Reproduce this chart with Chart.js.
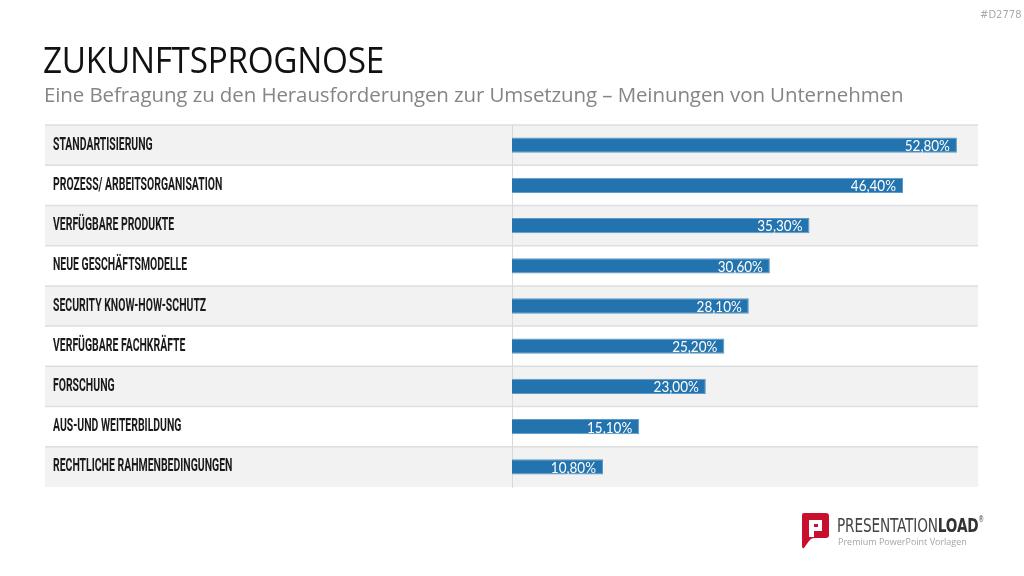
<!DOCTYPE html>
<html>
<head>
<meta charset="utf-8">
<script src="https://cdn.jsdelivr.net/npm/chart.js@4.4.1/dist/chart.umd.min.js"></script>
<style>
  html, body { margin:0; padding:0; background:#fff; }
  body { width:1024px; height:576px; position:relative; overflow:hidden; font-family:"Open Sans", sans-serif; }
  #wrap { position:absolute; left:0; top:0; width:1024px; height:576px; }
  .code { position:absolute; left:980px; top:9px; font:10px "DejaVu Sans", sans-serif; color:#a8a8a8; }
  .title { position:absolute; left:43px; top:35px; font:400 36px "Open Sans", sans-serif; color:#111; letter-spacing:-0.3px; white-space:nowrap; transform-origin:0 0; transform:scaleX(0.925); }
  .sub { position:absolute; left:44px; top:80px; font:400 20.5px "Open Sans", sans-serif; color:#858585; letter-spacing:-0.1px; white-space:nowrap; }
  .logo { position:absolute; left:802px; top:513px; }
  .lt { position:absolute; left:837px; top:513px; font:400 20px "DejaVu Sans Condensed", "Liberation Sans", sans-serif; color:#444; letter-spacing:-0.2px; white-space:nowrap; transform-origin:0 0; transform:scaleX(0.76); }
  .lt b { font-weight:700; color:#333; }
  .lt sup { font-size:8px; vertical-align:10px; }
  .ls { position:absolute; left:838px; top:535px; font:400 9px "Open Sans", sans-serif; color:#a5a5a5; white-space:nowrap; }
</style>
</head>
<body>
<div id="wrap"><canvas id="c" width="1024" height="576"></canvas></div>
<div class="code">#D2778</div>
<div class="title">ZUKUNFTSPROGNOSE</div>
<div class="sub">Eine Befragung zu den Herausforderungen zur Umsetzung – Meinungen von Unternehmen</div>
<svg class="logo" width="28" height="36" viewBox="0 0 28 36">
  <path d="M2 0 H24 Q27 0 27 3 V22 Q27 25 24 25 H12 Q9 25 7 28 L2 35 Q0 36 0 33 V2 Q0 0 2 0 Z" fill="#c8102e"/>
  <path d="M7 7 H20 V18 H12 V24 H7 Z" fill="#fff"/>
  <path d="M12 11 H16 V14 H12 Z" fill="#c8102e"/>
</svg>
<div class="lt">PRESENTATION<b>LOAD</b><sup>®</sup></div>
<div class="ls">Premium PowerPoint Vorlagen</div>
<script>
const categories = [
  "STANDARTISIERUNG",
  "PROZESS/ ARBEITSORGANISATION",
  "VERFÜGBARE PRODUKTE",
  "NEUE GESCHÄFTSMODELLE",
  "SECURITY KNOW-HOW-SCHUTZ",
  "VERFÜGBARE FACHKRÄFTE",
  "FORSCHUNG",
  "AUS-UND WEITERBILDUNG",
  "RECHTLICHE RAHMENBEDINGUNGEN"
];
const values = [52.8, 46.4, 35.3, 30.6, 28.1, 25.2, 23.0, 15.1, 10.8];
const valueLabels = ["52,80%", "46,40%", "35,30%", "30,60%", "28,10%", "25,20%", "23,00%", "15,10%", "10,80%"];

const LABEL_FONT = '700 18px Roboto, "DejaVu Sans", sans-serif';
const LABEL_SQUEEZE = 0.58;

const rowBands = {
  id: 'rowBands',
  beforeDraw(chart) {
    const {ctx, chartArea, scales} = chart;
    const y = scales.y;
    const left = y.left - 8;
    const right = chartArea.right;
    const n = categories.length;
    const step = (chartArea.bottom - chartArea.top) / n;
    ctx.save();
    for (let i = 0; i < n; i++) {
      const c = y.getPixelForValue(i);
      ctx.fillStyle = (i % 2 === 0) ? '#f2f2f2' : '#ffffff';
      ctx.fillRect(left, c - step / 2, right - left, step);
    }
    ctx.strokeStyle = '#dedede';
    ctx.lineWidth = 1.5;
    for (let i = 0; i < n; i++) {
      const top = y.getPixelForValue(i) - step / 2;
      ctx.beginPath();
      ctx.moveTo(left, top);
      ctx.lineTo(right, top);
      ctx.stroke();
    }
    ctx.restore();
  },
  afterDraw(chart) {
    const {ctx, scales} = chart;
    const y = scales.y;
    ctx.save();
    ctx.fillStyle = '#1a1a1a';
    ctx.font = LABEL_FONT;
    ctx.textAlign = 'left';
    ctx.textBaseline = 'middle';
    categories.forEach((lab, i) => {
      const cy = y.getPixelForValue(i);
      ctx.save();
      ctx.translate(y.left, cy);
      ctx.scale(LABEL_SQUEEZE, 1);
      ctx.fillText(lab, 0, 0);
      ctx.restore();
    });
    ctx.restore();
  }
};

const valueLabelPlugin = {
  id: 'valueLabels',
  afterDatasetsDraw(chart) {
    const {ctx} = chart;
    const meta = chart.getDatasetMeta(0);
    ctx.save();
    ctx.fillStyle = '#ffffff';
    ctx.font = '400 15px Lato, "Open Sans", sans-serif';
    ctx.textAlign = 'right';
    ctx.textBaseline = 'middle';
    meta.data.forEach((bar, i) => {
      ctx.save();
      ctx.translate(bar.x - 7, bar.y + 1);
      ctx.scale(0.9, 1);
      ctx.fillText(valueLabels[i], 0, 0);
      ctx.restore();
    });
    ctx.restore();
  }
};

new Chart(document.getElementById('c'), {
  type: 'bar',
  data: {
    labels: categories,
    datasets: [{
      data: values,
      backgroundColor: '#2273ae',
      borderColor: '#5d9ac6',
      borderWidth: 1,
      borderSkipped: 'start',
      barPercentage: 0.38,
      categoryPercentage: 1.0
    }]
  },
  options: {
    indexAxis: 'y',
    responsive: false,
    animation: false,
    events: [],
    layout: { padding: { top: 125, bottom: 89, left: 53, right: 46 } },
    plugins: { legend: { display: false }, tooltip: { enabled: false } },
    scales: {
      x: { display: false, min: 0, max: 55.3 },
      y: {
        afterFit(scale) { scale.width = 459; },
        grid: { display: false, drawTicks: false },
        border: { display: true, color: '#d9d9d9', width: 1 },
        ticks: { display: false }
      }
    }
  },
  plugins: [rowBands, valueLabelPlugin]
});
</script>
</body>
</html>
